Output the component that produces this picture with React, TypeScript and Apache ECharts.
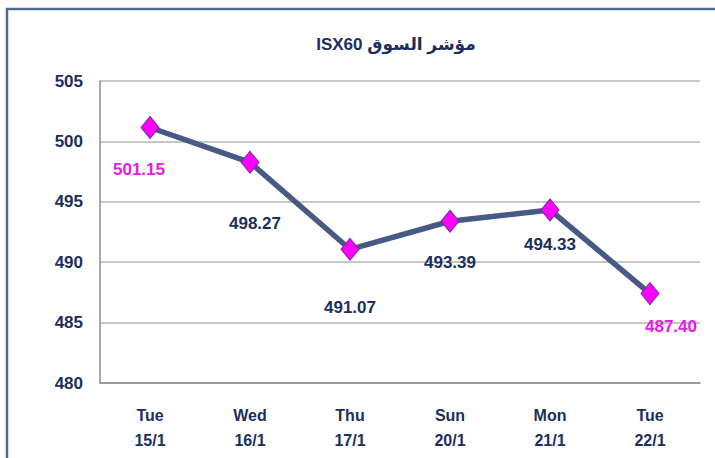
import React, { useEffect, useRef } from "react";
import * as echarts from "echarts";

const days = ["Tue", "Wed", "Thu", "Sun", "Mon", "Tue"];
const dates = ["15/1", "16/1", "17/1", "20/1", "21/1", "22/1"];
const values = [501.15, 498.27, 491.07, 493.39, 494.33, 487.4];
const labelOffsets = [[-11, 42], [5, 61], [0, 58], [0, 41], [0, 35], [21, 33]];
const labelColors = ["#E81AE8", "#1B2F5E", "#1B2F5E", "#1B2F5E", "#1B2F5E", "#E81AE8"];
const titleText = "ISX60 مؤشر السوق";

const FONT = "'Liberation Sans', Arial, sans-serif";

export default function App() {
  const ref = useRef<HTMLDivElement>(null);
  useEffect(() => {
    if (!ref.current) return;
    const chart = echarts.init(ref.current, null, { renderer: "svg" });
    const categories = days.map((d, i) => d + "\n" + dates[i]);
    chart.setOption({
      animation: false,
      backgroundColor: "#FFFFFF",
      graphic: [
        {
          type: "rect",
          shape: { x: 7, y: 9, width: 760, height: 500 },
          style: { fill: "none", stroke: "#506C8C", lineWidth: 2.5 },
          silent: true,
        },
      ],
      title: {
        text: titleText,
        left: 391,
        top: 31,
        textAlign: "center",
        textStyle: {
          fontFamily: "'Liberation Sans', 'DejaVu Sans', sans-serif",
          fontWeight: "bold",
          fontSize: 17,
          color: "#1B2F5E",
        },
      },
      grid: { left: 100, right: 15, top: 81, bottom: 75, containLabel: false },
      xAxis: {
        type: "category",
        data: categories,
        boundaryGap: true,
        axisLine: { show: true, lineStyle: { color: "#8C8C8C", width: 1.5 } },
        axisTick: { show: false },
        axisLabel: {
          margin: 20,
          lineHeight: 25,
          fontFamily: FONT,
          fontWeight: "bold",
          fontSize: 16,
          color: "#1B2F5E",
        },
      },
      yAxis: {
        type: "value",
        min: 480,
        max: 505,
        interval: 5,
        axisLine: { show: true, lineStyle: { color: "#8C8C8C", width: 1.5 } },
        axisTick: { show: false },
        splitLine: { show: true, lineStyle: { color: "#B4B4B4", width: 1.5 } },
        axisLabel: {
          margin: 17,
          fontFamily: FONT,
          fontWeight: "bold",
          fontSize: 17,
          color: "#1B2F5E",
        },
      },
      series: [
        {
          type: "line",
          data: values.map((v, i) => ({
            value: v,
            label: {
              show: true,
              position: "inside",
              offset: labelOffsets[i],
              formatter: v.toFixed(2),
              color: labelColors[i],
              fontFamily: FONT,
              fontWeight: "bold",
              fontSize: 17,
            },
          })),
          lineStyle: { color: "#475985", width: 5.5 },
          symbol: "diamond",
          symbolSize: [18, 22],
          itemStyle: { color: "#FF00FF", borderColor: "#7A2A9A", borderWidth: 1 },
          z: 3,
        },
      ],
    });
    return () => chart.dispose();
  }, []);
  return (
    <div
      ref={ref}
      style={{ position: "fixed", left: 0, top: 0, width: 715, height: 458 }}
    />
  );
}
